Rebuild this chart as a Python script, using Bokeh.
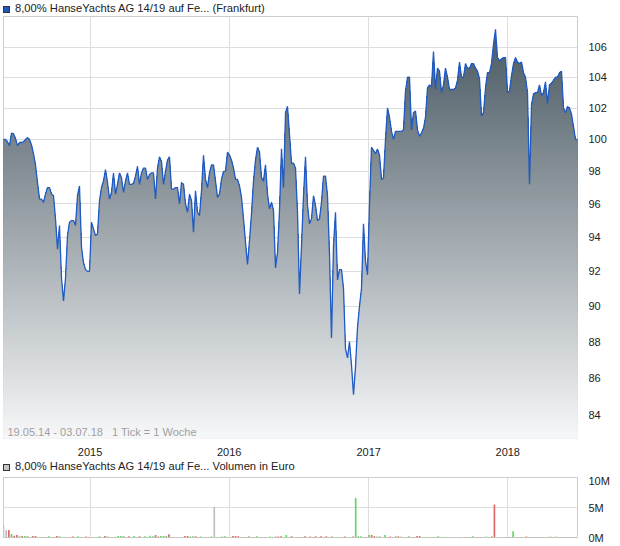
import numpy as np
import pandas as pd
from bokeh.plotting import figure
from bokeh.layouts import column
from bokeh.models import (Range1d, FixedTicker, DatetimeTickFormatter, Label, Div,
                          CustomJSTickFormatter, ColumnDataSource)
from bokeh.transform import factor_cmap
from bokeh.embed import file_html
from bokeh.resources import INLINE

# ---------------- data ----------------
TITLE = "8,00% HanseYachts AG 14/19 auf Fe... (Frankfurt)"
VOL_TITLE = "8,00% HanseYachts AG 14/19 auf Fe... Volumen in Euro"
INFO = "19.05.14 - 03.07.18\u00a0\u00a0 1 Tick = 1 Woche"
START, END = "2014-05-19", "2018-07-03"
years = [2015, 2016, 2017, 2018]
price_ticks = [84, 86, 88, 90, 92, 94, 96, 98, 100, 102, 104, 106]
vol_ticks = [0, 5, 10]  # millions of euro

prices = [
    100.0, 100.0, 99.85, 99.6, 100.4, 100.35, 100.05, 99.6, 99.8, 99.8,
    99.85, 100.0, 100.1, 100.0, 99.65, 99.1, 98.4, 97.3, 96.3, 96.3,
    96.1, 96.6, 97.0, 97.0, 96.6, 96.5, 95.1, 93.3, 94.7, 91.6,
    90.3, 91.6, 94.1, 94.9, 95.0, 95.0, 94.7, 96.5, 97.1, 93.4,
    92.5, 92.1, 92.0, 92.0, 94.9, 94.5, 94.1, 94.2, 96.2, 97.0,
    97.4, 98.1, 97.3, 96.3, 96.7, 97.9, 96.6, 97.2, 97.9, 97.6,
    96.7, 97.4, 97.9, 97.2, 97.2, 97.25, 97.7, 98.3, 97.2, 97.9,
    98.2,
    98.2, 97.5, 97.8, 97.9, 97.9, 96.3, 98.2, 98.9, 98.6, 97.2,
    98.0, 98.7, 98.9, 96.9, 96.9, 97.0, 97.0, 96.0, 97.3, 97.2,
    96.0, 95.5, 96.6, 96.2, 94.3, 96.8, 95.5, 95.3, 96.8, 99.0,
    97.5, 97.0, 97.9, 98.4, 98.4, 97.4, 96.4, 96.6, 97.5, 98.0,
    98.0, 99.2, 99.0, 98.7, 98.2, 97.5, 97.5, 97.1, 96.4, 95.1,
    93.7, 92.4, 93.8, 95.4, 97.4, 98.7, 99.5, 99.2, 97.6, 97.4,
    98.4, 96.6, 95.7, 96.1, 95.6, 92.2, 93.1, 95.6, 99.4, 97.0,
    101.7, 102.1, 100.3,
    98.5, 98.5, 98.2, 95.5, 90.7, 93.5, 96.5, 98.9, 95.9, 94.8,
    95.1, 96.5, 95.9, 95.0, 95.1, 96.1, 97.7, 97.7, 96.5, 93.0,
    88.2, 93.5, 95.5, 91.5, 92.1, 92.1, 91.0, 87.6, 87.1, 88.0,
    86.7, 85.1, 86.6, 88.8, 90.0, 91.0, 94.8, 92.6, 91.8, 96.0,
    99.5, 99.3, 99.1, 99.4, 99.0, 97.5, 97.6, 100.0, 102.0, 101.4,
    100.5, 100.0, 100.5, 100.5, 100.5, 100.5, 100.6, 103.1, 104.0, 104.0,
    100.6, 101.7, 101.8, 100.6, 100.2, 100.4, 100.7, 101.4, 103.3, 103.5,
    103.4, 105.7,
    103.2, 104.6, 104.4, 103.0, 103.5, 104.6, 104.0, 103.2, 103.2, 103.2,
    103.3, 103.8, 105.0, 104.0, 104.0, 104.9, 104.6, 104.6, 104.9, 104.9,
    104.6, 104.4, 103.9, 101.5, 101.7, 103.3, 104.3, 104.3, 104.9, 106.2,
    107.2, 105.3, 105.1, 105.2, 105.3, 105.3, 103.0, 103.1, 104.1, 104.9,
    105.3, 105.0, 104.9, 105.0, 104.3, 104.0, 103.0, 97.2, 102.2, 102.9,
    103.0, 103.0, 103.5, 102.8, 103.0, 103.7, 102.3, 103.5, 103.6, 103.8,
    104.0, 104.0, 104.3, 104.4, 102.0, 101.7, 102.1, 102.0, 101.6, 100.8,
    100.0, 100.0,
]

volume_m = [
    2.1, 1.25, 1.25, 0.6, 0.3, 0.4, 0.2, 0.25, 0.25, 0.25, 0.05, 0.25, 0.25, 0.1, 0.1, 0.1, 0.1, 0.2, 0.1, 0.1,
    0.25, 0.2, 0.1, 0.1, 0.05, 0.1, 0.15, 0.1, 0.2, 0.1, 0.1, 0.15, 0.1, 0.1, 0.1, 0.1, 0.2, 0.1, 0.25, 0.15,
    0.1, 0.1, 0.1, 0.25, 0.25, 0.25, 0.1, 0.2, 0.1, 0.25, 0.1, 0.2, 0.1, 0.2, 0.1, 0.3, 0.2, 0.4, 0.15, 0.25,
    0.25, 0.25, 0.55, 0.1, 0.1, 0.1, 0.1, 0.1, 0.25, 0.25, 0.15, 0.2, 0.2, 0.1, 0.15, 0.1, 0.1, 0.1, 0.15, 5.1,
    0.05, 0.1, 0.15, 0.2, 0.1, 0.1, 0.25, 0.25, 0.2, 0.1, 0.1, 0.1, 0.2, 0.1, 0.1, 0.2, 0.1, 0.1, 0.1, 0.1,
    0.15, 0.1, 0.15, 0.15, 0.2, 0.1, 0.4, 0.1, 0.2, 0.1, 0.1, 0.1, 0.1, 0.2, 0.1, 0.15, 0.1, 0.2, 0.1, 0.2,
    0.1, 0.2, 0.1, 0.15, 0.1, 0.1, 0.1, 0.1, 0.15, 0.1, 0.1, 0.15, 6.6, 0.2, 0.2, 0.1, 0.1, 0.4, 0.4, 0.2,
    0.15, 0.15, 0.1, 0.4, 0.1, 0.15, 0.1, 0.2, 0.2, 0.15, 0.1, 0.1, 0.2, 0.1, 0.1, 0.25, 0.25, 0.1, 0.1, 0.1,
    0.1, 0.1, 0.1, 0.2, 0.1, 0.1, 0.1, 0.05, 0.1, 0.1, 0.05, 0.1, 0.1, 0.1, 0.1, 0.1, 0.2, 0.1, 0.1, 0.1,
    0.1, 0.15, 0.1, 0.2, 5.5, 0.1, 0.1, 0.05, 0.1, 0.1, 0.1, 1.05, 0.1, 0.1, 0.1, 0.1, 0.15, 0.1, 0.1, 0.1,
    0.1, 0.1, 0.1, 0.1, 0.1, 0.15, 0.1, 0.15, 0.1, 0.1, 0.1, 0.1, 0.1, 0.1, 0.1, 0.1,
]

direction = (
    "n n d u d d u d u u d d d u u d d u u d "
    "d u u u u d d u u d u d d d u u u u d u "
    "d u d u u u d d u u d d u u d u u d d u "
    "u u d d u n u d d d u u d d u u d u u n "
    "u d u u d u d d d d u d u d u u d u d u "
    "u d u d d u u d d u d u d d u d d d d d "
    "u d u d u u d u d u u d u u u d d u d d "
    "u d u u d d d u d n u d u u d d d u u d "
    "u u d u u d u u d u n d u d d u u d u d "
    "d u d u d u d n d d d u d d d u d u d d "
    "u d d u d u d n d u d d u d d d"
).split()

# ---------------- styling ----------------
FONT = "Liberation Sans"
LINE_BLUE = "#1f5bc6"
GRID = "#dddddd"
FRAME = "#cccccc"
TOP_RGB = np.array([68, 84, 94])
BOT_RGB = np.array([247, 248, 249])
W = 612


def header(text, fill):
    html = (
        f'<div style="font-family:\'{FONT}\';font-size:11.2px;color:#222;line-height:16px;'
        f'white-space:nowrap;padding-left:3px;">'
        f'<span style="display:inline-block;width:7px;height:7px;background:{fill};'
        f'border:1px solid #333;vertical-align:-1px;margin-right:5px;"></span>{text}</div>'
    )
    return Div(text=html, width=W, height=16, margin=(0, 0, 0, 0))


dates = pd.date_range(START, END, periods=len(prices))
price_arr = np.array(prices)
year_ms = [pd.Timestamp(f"{y}-01-01").value / 1e6 for y in years]
x0_ms = dates[0].value / 1e6
x1_ms = dates[-1].value / 1e6

y_lo, y_hi = 82.78, 108.07

p1 = figure(width=W, height=442, x_axis_type="datetime", y_axis_type="log",
            y_axis_location="right", output_backend="svg", toolbar_location=None,
            x_range=Range1d(x0_ms, x1_ms), y_range=Range1d(y_lo, y_hi),
            min_border_left=3, min_border_right=34, min_border_top=0, min_border_bottom=17)

# gradient fill below the line: stacked bands, darkest (highest) first
edges = np.geomspace(y_lo, y_hi, 141)[1:]
keep = edges[: int(np.searchsorted(edges, price_arr.max())) + 1]
for t in keep[::-1]:
    frac = (np.log(y_hi) - np.log(t)) / (np.log(y_hi) - np.log(y_lo))
    rgb = (TOP_RGB + frac * (BOT_RGB - TOP_RGB)).round().astype(int)
    col = "#%02x%02x%02x" % tuple(rgb)
    p1.varea(x=dates, y1=y_lo, y2=np.minimum(price_arr, t), fill_color=col)

p1.line(x=dates, y=prices, line_color=LINE_BLUE, line_width=1.3)

p1.add_layout(Label(x=x0_ms, y=y_lo, x_offset=4, y_offset=1, text=INFO, text_font=FONT,
                    text_font_size="11px", text_color="#a0a0a0", text_baseline="bottom"))

p1.xaxis.ticker = FixedTicker(ticks=year_ms)
p1.xaxis.formatter = DatetimeTickFormatter(days="%Y", months="%Y", years="%Y")
p1.yaxis.ticker = FixedTicker(ticks=price_ticks)
p1.yaxis.formatter = CustomJSTickFormatter(code="return tick.toFixed(0);")
for ax in (p1.xaxis, p1.yaxis):
    ax.axis_line_color = None
    ax.major_tick_line_color = None
    ax.minor_tick_line_color = None
    ax.major_label_text_font = FONT
    ax.major_label_text_font_size = "11px"
    ax.major_label_text_color = "#222222"
p1.xaxis.major_label_standoff = 3
p1.yaxis.major_label_standoff = 5
p1.grid.grid_line_color = GRID
p1.outline_line_color = FRAME

# ---------------- volume ----------------
vol_dates = pd.date_range(START, periods=len(volume_m), freq="7D")
vsrc = ColumnDataSource(dict(x=vol_dates, top=volume_m, d=direction))
p2 = figure(width=W, height=70, x_axis_type="datetime", y_axis_location="right",
            output_backend="svg", toolbar_location=None, x_range=p1.x_range,
            y_range=Range1d(vol_ticks[0], vol_ticks[-1]),
            min_border_left=3, min_border_right=34, min_border_top=3, min_border_bottom=7)
p2.vbar(x="x", top="top", bottom=0, width=7 * 0.62 * 86400000, source=vsrc, line_color=None,
        fill_color=factor_cmap("d", palette=["#5fd65f", "#e06464", "#bdbdbd"], factors=["u", "d", "n"]))

p2.xaxis.ticker = FixedTicker(ticks=year_ms)
p2.xaxis.visible = False
p2.yaxis.ticker = FixedTicker(ticks=vol_ticks)
p2.yaxis.formatter = CustomJSTickFormatter(code="return tick.toFixed(0) + 'M';")
p2.yaxis.axis_line_color = None
p2.yaxis.major_tick_line_color = None
p2.yaxis.minor_tick_line_color = None
p2.yaxis.major_label_text_font = FONT
p2.yaxis.major_label_text_font_size = "11px"
p2.yaxis.major_label_text_color = "#222222"
p2.yaxis.major_label_standoff = 5
p2.grid.grid_line_color = GRID
p2.outline_line_color = FRAME

layout = column(header(TITLE, "#2256b9"), p1, header(VOL_TITLE, "#c4c4c4"), p2, spacing=0)
open("out.html", "w").write(file_html(layout, INLINE))
